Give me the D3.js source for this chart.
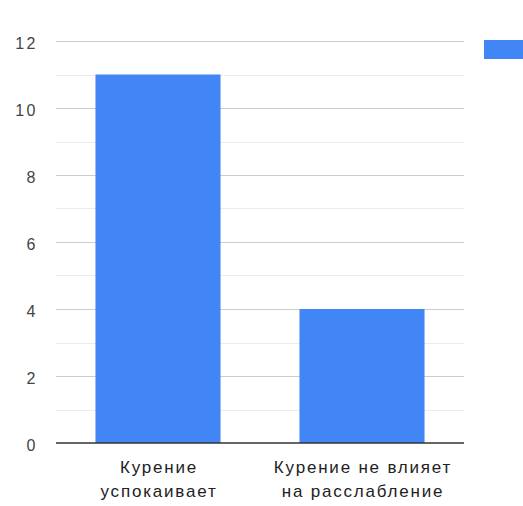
<!DOCTYPE html>
<html>
<head>
<meta charset="utf-8">
<script src="https://cdn.jsdelivr.net/npm/d3@7"></script>
<style>
  body { margin: 0; background: #fff; }
  svg { display: block; font-family: "Liberation Sans", Arial, sans-serif; }
</style>
</head>
<body>
<script>
// Data
var categories = [["Курение", "успокаивает"], ["Курение не влияет", "на расслабление"]]
var values = [11, 4]
var majorTicks = [0, 2, 4, 6, 8, 10, 12]
var minorTicks = [1, 3, 5, 7, 9, 11]

function main() {
    var width = 523
    var height = 506
    var left = 56, right = 464, top = 41, bottom = 443

    // Create SVG element.
    var svg = d3.select('body').append('svg')
        .attr('width', width)
        .attr('height', height)

    // Scales
    var xScale = d3.scaleBand()
        .domain(d3.range(values.length))
        .range([left, right])
        .paddingInner(0.387)
        .paddingOuter(0.1935)

    var yScale = d3.scaleLinear()
        .domain([0, 12])
        .range([bottom, top])

    // Minor grid lines
    svg.append('g').selectAll('line')
        .data(minorTicks)
        .enter().append('line')
        .attr('x1', left).attr('x2', right)
        .attr('y1', function(d) { return Math.round(yScale(d)) + 0.5 })
        .attr('y2', function(d) { return Math.round(yScale(d)) + 0.5 })
        .attr('stroke', '#ececec')

    // Major grid lines
    svg.append('g').selectAll('line')
        .data(majorTicks.slice(1))
        .enter().append('line')
        .attr('x1', left).attr('x2', right)
        .attr('y1', function(d) { return Math.round(yScale(d)) + 0.5 })
        .attr('y2', function(d) { return Math.round(yScale(d)) + 0.5 })
        .attr('stroke', '#cccccc')

    // Y-axis labels
    var y_axis = d3.axisLeft(yScale)
        .tickValues(majorTicks)
        .tickSize(0)
        .tickPadding(0)
    var yg = svg.append('g')
        .attr('transform', 'translate(38,2)')
        .call(y_axis)
    yg.select('.domain').remove()
    yg.selectAll('text')
        .attr('fill', '#444')
        .style('font-size', '16px')
        .style('letter-spacing', '2.5px')
        .style('font-family', '"Liberation Sans", Arial, sans-serif')

    // Bars
    svg.append('g').selectAll('rect')
        .data(values)
        .enter().append('rect')
        .attr('x', function(d, i) { return xScale(i) })
        .attr('y', function(d) { return yScale(d) })
        .attr('width', xScale.bandwidth())
        .attr('height', function(d) { return yScale(0) - yScale(d) })
        .attr('fill', '#4285f4')

    // Baseline
    svg.append('line')
        .attr('x1', left).attr('x2', right)
        .attr('y1', yScale(0)).attr('y2', yScale(0))
        .attr('stroke', '#333')
        .attr('stroke-width', 1.5)

    // Category labels
    var lab = svg.append('g').selectAll('text')
        .data(categories)
        .enter().append('text')
        .attr('x', function(d, i) { return xScale(i) + xScale.bandwidth() / 2 + 1 })
        .attr('y', 473)
        .attr('text-anchor', 'middle')
        .attr('fill', '#222')
        .style('font-size', '17px')
        .style('letter-spacing', '1.8px')
    lab.selectAll('tspan')
        .data(function(d) { return d })
        .enter().append('tspan')
        .attr('x', function() { return d3.select(this.parentNode).attr('x') })
        .attr('dy', function(d, i) { return i === 0 ? 0 : 24 })
        .text(function(d) { return d })

    // Legend swatch
    svg.append('rect')
        .attr('x', 484).attr('y', 40)
        .attr('width', 40).attr('height', 19)
        .attr('fill', '#4285f4')
}
main()
</script>
</body>
</html>
